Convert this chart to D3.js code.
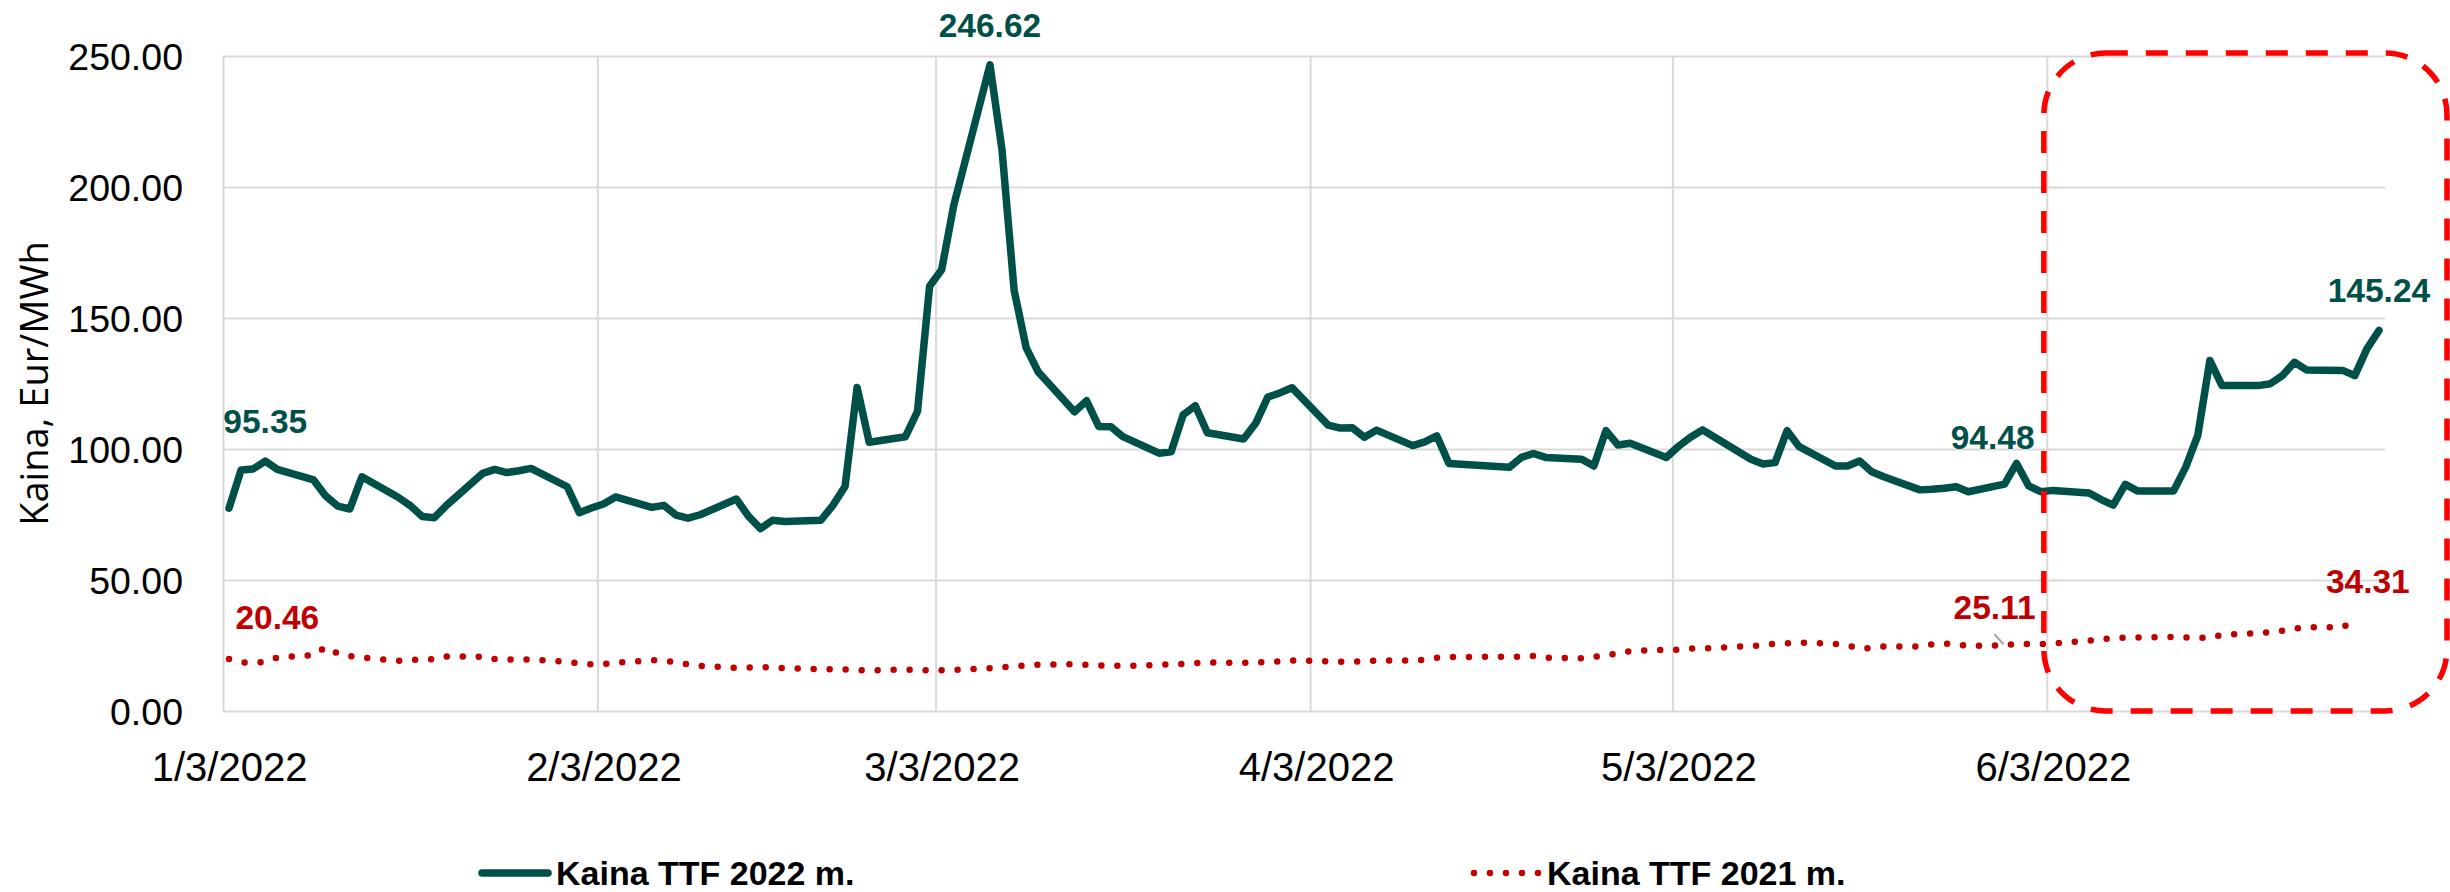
<!DOCTYPE html>
<html>
<head>
<meta charset="utf-8">
<script src="https://cdn.jsdelivr.net/npm/d3@7"></script>
<style>
  body { margin: 0; background: #fff; }
  svg { display: block; }
</style>
</head>
<body>
<svg width="2450" height="892"></svg>
<script>
// trading days (m/d, 2022)
const dates = [
  '1/3','1/4','1/5','1/6','1/7','1/10','1/11','1/12','1/13','1/14','1/17','1/18','1/19','1/20','1/21','1/24','1/25','1/26','1/27','1/28','1/31',
  '2/1','2/2','2/3','2/4','2/7','2/8','2/9','2/10','2/11','2/14','2/15','2/16','2/17','2/18','2/21','2/22','2/23','2/24','2/25','2/28',
  '3/1','3/2','3/3','3/4','3/7','3/8','3/9','3/10','3/11','3/14','3/15','3/16','3/17','3/18','3/21','3/22','3/23','3/24','3/25','3/28','3/29','3/30','3/31',
  '4/1','4/4','4/5','4/6','4/7','4/8','4/11','4/12','4/13','4/14','4/19','4/20','4/21','4/22','4/25','4/26','4/27','4/28','4/29',
  '5/2','5/3','5/4','5/5','5/6','5/9','5/10','5/11','5/12','5/13','5/16','5/17','5/18','5/19','5/20','5/23','5/24','5/25','5/26','5/27','5/30','5/31',
  '6/1','6/2','6/3','6/6','6/7','6/8','6/9','6/10','6/13','6/14','6/15','6/16','6/17','6/20','6/21','6/22','6/23','6/24','6/27','6/28','6/29','6/30'
];

const ttf2022 = [
  77.4, 92.0, 92.4, 95.35, 92.2, 88.2, 82.1, 78.2, 77.1, 89.4, 81.6, 78.4, 74.2, 73.8, 78.5, 90.7, 92.2, 91.0, 91.7, 92.6, 85.6,
  75.7, 77.5, 79.0, 81.7, 77.7, 78.5, 74.8, 73.6, 74.9, 80.9, 74.4, 69.6, 72.8, 72.3, 72.8, 78.5, 85.7, 123.5, 102.6, 104.7,
  114.4, 162.1, 168.4, 193.0, 246.62, 214.0, 160.6, 138.6, 129.4, 114.2, 118.4, 108.6, 108.5, 104.7, 98.4, 98.9, 113.1, 116.5, 106.2, 103.8, 109.8, 119.8, 121.4,
  123.4, 109.1, 108.0, 108.1, 104.5, 107.2, 101.3, 102.7, 105.0, 94.5, 93.0, 96.8, 98.3, 96.8, 96.1, 93.5, 107.0, 101.5, 102.2,
  96.8, 101.0, 104.5, 107.3, 104.5, 96.1, 94.3, 94.8, 107.0, 100.9, 93.5, 93.5, 95.4, 91.3, 89.4, 84.4, 84.6, 85.0, 85.6, 83.7, 86.6, 94.48,
  85.9, 83.7, 84.2, 83.2, 80.7, 78.6, 86.5, 84.0, 84.0, 93.1, 105.2, 133.8, 124.2, 124.2, 124.9, 128.0, 133.1, 130.2, 130.0, 128.0, 138.2, 145.24
];

// 2021 prices, row by row against the same dates (two rows shorter)
const ttf2021 = [
  19.8, 18.5, 18.4, 18.8, 20.46, 21.3, 24.4, 22.0, 21.0, 20.4, 19.2, 19.4, 19.8, 19.7, 20.8, 20.7, 19.8, 19.6, 19.7, 19.7, 18.7,
  18.2, 17.8, 17.9, 18.4, 19.4, 19.1, 18.7, 17.8, 17.2, 16.5, 16.6, 16.7, 16.6, 16.4, 15.9, 16.0, 15.9, 15.6, 15.5, 15.8,
  15.7, 15.5, 15.6, 15.7, 16.3, 16.7, 17.0, 17.4, 17.7, 17.9, 17.6, 17.4, 17.3, 17.2, 17.6, 17.8, 18.0, 18.3, 18.5, 18.4, 18.5, 18.8, 18.9,
  19.3, 19.0, 18.8, 18.8, 19.0, 19.2, 19.3, 19.6, 20.3, 20.6, 20.7, 20.7, 21.0, 20.3, 20.1, 20.6, 21.4, 21.9, 22.9,
  23.4, 23.4, 23.8, 23.9, 24.1, 24.8, 25.1, 25.7, 25.8, 26.1, 25.6, 25.0, 23.9, 24.0, 24.6, 24.6, 25.4, 25.8, 25.4, 24.8, 25.11, 25.7,
  25.6, 25.5, 25.8, 26.8, 27.3, 28.0, 28.0, 28.0, 28.3, 28.1, 27.9, 28.0, 29.1, 29.7, 30.1, 30.6, 31.4, 31.9, 32.0, 34.31
];

const yTicks = [0, 50, 100, 150, 200, 250];
const xTickDates = ['1/3', '2/3', '3/3', '4/3', '5/3', '6/3'];
const labels2022 = ['1/6', '3/7', '5/31', '6/30'];
const labels2021 = ['1/7', '5/30', '6/28'];
const seriesNames = ['Kaina TTF 2022 m.', 'Kaina TTF 2021 m.'];
const yTitle = 'Kaina, Eur/MWh';

const green = '#00504a';
const red = '#c00000';
const grid = '#d9d9d9';
const font = '"Liberation Sans", Arial, sans-serif';

const svg = d3.select('svg');
const width = +svg.attr('width');

const parse = s => {
  const [m, d] = s.split('/');
  return new Date(2022, +m - 1, +d);
};
const mid = dt => d3.timeHour.offset(dt, 12);

const x = d3.scaleTime()
  .domain([new Date(2022, 0, 3), new Date(2022, 6, 1)])
  .range([223, 2385]);

const y = d3.scaleLinear()
  .domain([0, 250])
  .range([711, 56]);

const halfDay = x(mid(x.domain()[0])) - x(x.domain()[0]);

// y axis + horizontal gridlines
const yAxis = svg.append('g')
  .attr('transform', `translate(${x.range()[0]},0)`)
  .call(d3.axisLeft(y)
    .tickValues(yTicks)
    .tickSize(-(x.range()[1] - x.range()[0]))
    .tickPadding(40)
    .tickFormat(d3.format('.2f')));
yAxis.select('.domain').remove();
yAxis.selectAll('line').attr('stroke', grid).attr('stroke-width', 2);
yAxis.selectAll('text')
  .attr('fill', '#000')
  .attr('font-family', font)
  .attr('font-size', 37.5)
  .attr('dy', '0.36em');

// x axis + vertical gridlines
const xAxis = svg.append('g')
  .attr('transform', `translate(0,${y(0)})`)
  .call(d3.axisBottom(x)
    .tickValues(xTickDates.map(parse))
    .tickSize(-(y(0) - y(250)))
    .tickPadding(42)
    .tickFormat(d3.timeFormat('%-m/%-d/%Y')));
xAxis.select('.domain').remove();
xAxis.selectAll('line').attr('stroke', grid).attr('stroke-width', 2);
xAxis.selectAll('text')
  .attr('x', halfDay)
  .attr('fill', '#000')
  .attr('font-family', font)
  .attr('font-size', 40);

svg.append('text')
  .attr('transform', `translate(48,${(y(0) + y(250)) / 2}) rotate(-90)`)
  .attr('text-anchor', 'middle')
  .attr('font-family', '"Open Sans", sans-serif')
  .attr('font-size', 38)
  .attr('fill', '#000')
  .text(yTitle);

const line = d3.line()
  .x(d => x(mid(parse(d.date))))
  .y(d => y(d.value));

const rows2022 = dates.map((date, i) => ({ date, value: ttf2022[i] }));
const rows2021 = ttf2021.map((value, i) => ({ date: dates[i], value }));

svg.append('path')
  .datum(rows2021)
  .attr('d', line)
  .attr('fill', 'none')
  .attr('stroke', red)
  .attr('stroke-width', 6.5)
  .attr('stroke-linecap', 'round')
  .attr('stroke-dasharray', '0 16');

svg.append('path')
  .datum(rows2022)
  .attr('d', line)
  .attr('fill', 'none')
  .attr('stroke', green)
  .attr('stroke-width', 7.5)
  .attr('stroke-linejoin', 'round')
  .attr('stroke-linecap', 'round');

// data labels
const nudge = { '5/31': [-24, 14], '6/28': [13, 0], '5/30': [-10, 2] };

function addLabels(rows, picks, color) {
  const picked = rows.filter(d => picks.includes(d.date));
  svg.append('g').selectAll('text')
    .data(picked)
    .join('text')
    .attr('x', d => x(mid(parse(d.date))) + (nudge[d.date] ? nudge[d.date][0] : 0))
    .attr('y', d => y(d.value) - 28 + (nudge[d.date] ? nudge[d.date][1] : 0))
    .attr('text-anchor', 'middle')
    .attr('font-family', font)
    .attr('font-weight', 'bold')
    .attr('font-size', 33.5)
    .attr('fill', color)
    .text(d => d3.format('.2f')(d.value));
}
addLabels(rows2022, labels2022, green);
addLabels(rows2021, labels2021, red);

// leader line for 25.11
rows2021.filter(d => d.date === '5/30').forEach(d => {
  const px = x(mid(parse(d.date)));
  const py = y(d.value);
  svg.append('line')
    .attr('x1', px - 10).attr('y1', py - 11)
    .attr('x2', px - 1).attr('y2', py - 1)
    .attr('stroke', '#a6a6a6')
    .attr('stroke-width', 2);
});

// highlight box over June
const boxLeft = x(parse('6/3')) - 3;
const boxTop = y(250) - 3;
svg.append('rect')
  .attr('x', boxLeft)
  .attr('y', boxTop)
  .attr('width', width - 3 - boxLeft)
  .attr('height', y(0) - boxTop)
  .attr('rx', 62)
  .attr('fill', 'none')
  .attr('stroke', '#ff0000')
  .attr('stroke-width', 5.5)
  .attr('stroke-dasharray', '22 18');

// legend
const legendY = 873;
const legend = svg.append('g');

legend.append('line')
  .attr('x1', 482).attr('x2', 548)
  .attr('y1', legendY).attr('y2', legendY)
  .attr('stroke', green)
  .attr('stroke-width', 7.5)
  .attr('stroke-linecap', 'round');

legend.append('line')
  .attr('x1', 1474).attr('x2', 1540)
  .attr('y1', legendY).attr('y2', legendY)
  .attr('stroke', red)
  .attr('stroke-width', 6.5)
  .attr('stroke-linecap', 'round')
  .attr('stroke-dasharray', '0 16');

legend.selectAll('text')
  .data(seriesNames)
  .join('text')
  .attr('x', (d, i) => i === 0 ? 556 : 1547)
  .attr('y', legendY + 12)
  .attr('font-family', font)
  .attr('font-weight', 'bold')
  .attr('font-size', 34)
  .attr('fill', '#000')
  .text(d => d);
</script>
</body>
</html>
